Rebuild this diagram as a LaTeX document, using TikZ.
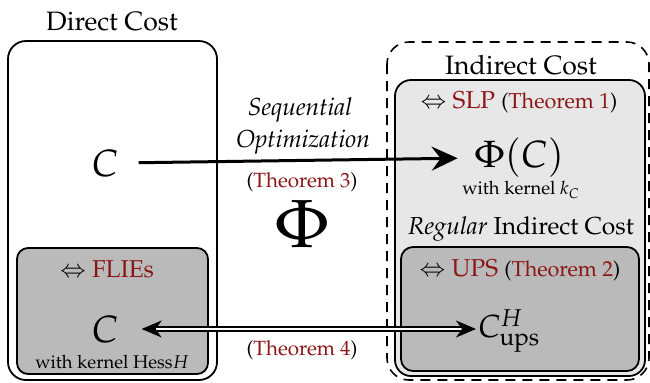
\documentclass[tikz,border=0pt]{standalone}
\usepackage[T1]{fontenc}
\usepackage{mathpazo}
\usetikzlibrary{arrows.meta}
\definecolor{thm}{RGB}{140,22,22}
\definecolor{lightbox}{RGB}{231,231,231}
\definecolor{darkbox}{RGB}{186,186,186}
\begin{document}
\begin{tikzpicture}[x=0.5pt,y=-0.5pt,
  boxline/.style={draw=black, line width=0.9pt},
  title/.style={font=\fontsize{13.3}{15}\selectfont, inner sep=0pt},
  sub/.style={font=\fontsize{12.3}{14}\selectfont, inner sep=0pt},
  head/.style={font=\fontsize{12.2}{14}\selectfont, inner sep=0pt},
  par/.style={font=\fontsize{10.8}{13}\selectfont},
  small/.style={font=\fontsize{9.2}{11}\selectfont, inner sep=0pt},
  thmtxt/.style={font=\fontsize{10.3}{12}\selectfont, inner sep=0pt},
  bigmath/.style={font=\fontsize{19}{22}\selectfont, inner sep=0pt},
  hugephi/.style={font=\fontsize{34}{40}\selectfont, inner sep=0pt},
  thickarrow/.style={line width=1.5pt, -{Stealth[length=13pt,width=12pt,inset=4.5pt]}},
  dblarrow/.style={double, double distance=1pt, line width=0.8pt,
     {Stealth[length=10pt,width=8.5pt,inset=3pt]}-{Stealth[length=10pt,width=8.5pt,inset=3pt]}}
]
\useasboundingbox (0,0) rectangle (650,382);

% boxes
\draw[boxline, rounded corners=9pt] (8,41) rectangle (217,380);
\draw[boxline, fill=darkbox, rounded corners=5.5pt] (17,248) rectangle (208,374);
\draw[line width=0.8pt, dash pattern=on 5pt off 3.5pt, rounded corners=11pt] (387,42) rectangle (649,380);
\draw[boxline, fill=lightbox, rounded corners=8pt] (395,80) rectangle (645,376);
\draw[boxline, fill=darkbox, rounded corners=6pt] (401,247) rectangle (639,371);

% left side
\node[title] (dc) at (112,22) {Direct Cost};
\node[bigmath] (cU) at (105,163) {$C$};
\node[head] (fl) at (107,269) {$\Leftrightarrow$ \textcolor{thm}{FLIEs}};
\node[bigmath] (cL) at (105,329) {$C$};
\node[small] (hk) at (112,362) {with kernel Hess$H$};

% middle
\node[sub] (seq) at (300,110) {\textit{Sequential}};
\node[sub] (opt) at (303,142) {\textit{Optimization}};
\node[thmtxt] (t3) at (302,182) {(\textcolor{thm}{Theorem 3})};
\node[hugephi] (phi) at (302,224) {$\Phi$};
\node[thmtxt] (t4) at (302,350) {(\textcolor{thm}{Theorem 4})};

% right side
\node[title] (ic) at (521,65) {Indirect Cost};
\node[head] (slp) at (519,102) {$\Leftrightarrow$ \textcolor{thm}{SLP} {\fontsize{10.8}{13}\selectfont(\textcolor{thm}{Theorem 1})}};
\node[bigmath] (phiC) at (519,158) {$\Phi(C)$};
\node[small] (kc) at (521,190) {with kernel $k_C$};
\node[sub] (ric) at (521,229) {\textit{Regular} Indirect Cost};
\node[head] (ups) at (520,270) {$\Leftrightarrow$ \textcolor{thm}{UPS} {\fontsize{10.8}{13}\selectfont(\textcolor{thm}{Theorem 2})}};
\node[font=\fontsize{16}{19}\selectfont, inner sep=0pt, anchor=west] (cups) at (478,331) {$C^H_{\mathrm{ups}}$};

% connectors
\draw[thickarrow, shorten <=10pt, shorten >=8pt] (cU.east) -- (phiC.west);
\draw[dblarrow, shorten <=11.5pt, shorten >=1pt] (cL.east) -- (cL.east -| cups.west);
\end{tikzpicture}
\end{document}
